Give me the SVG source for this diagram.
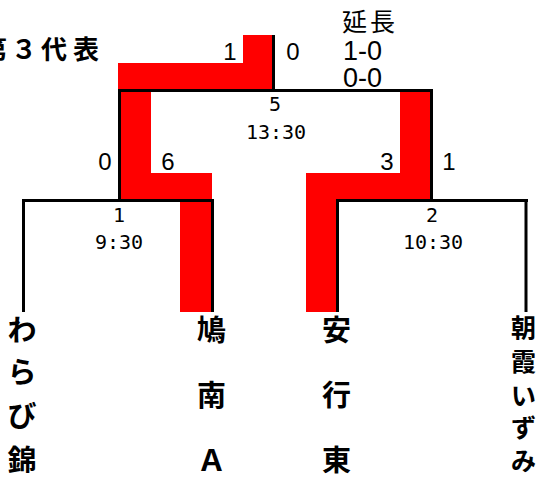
<svg xmlns="http://www.w3.org/2000/svg" width="542" height="477" viewBox="0 0 542 477">
<style>
.red{fill:#ff0000;stroke:none}
.ln{fill:none;stroke:#000;stroke-width:3;stroke-linecap:butt}
.sc{font-family:"Liberation Sans",Arial,sans-serif;font-size:24px;fill:#000;text-anchor:middle}
.ext{font-family:"Liberation Sans",Arial,sans-serif;font-size:27px;fill:#000}
.tm{font-family:"DejaVu Sans Mono",monospace;font-size:20px;fill:#000;text-anchor:middle}
.jp{font-family:"Noto Sans CJK JP",sans-serif;fill:#000}
.nm{font-family:"Noto Sans CJK JP",sans-serif;font-weight:bold;font-size:29px;fill:#000;text-anchor:middle}
.nm2{font-family:"Noto Sans CJK JP",sans-serif;font-weight:bold;font-size:25px;fill:#000;text-anchor:middle}
</style>
<rect width="542" height="477" fill="#fff"/>
<g id="title">
<text class="jp" font-weight="bold" font-size="26" text-anchor="middle" x="-6 24 54 86" y="59">第３代表</text>
</g>
<g id="win-path">
<polygon class="red" points="118,63 243,63 243,35 272,35 272,89 118,89"/>
<polygon class="red" points="120,92 151,92 151,173 212,173 212,312 180,312 180,199 120,199"/>
<polygon class="red" points="400,92 430,92 430,199 336,199 336,312 306,312 306,173 400,173"/>
</g>
<g id="connectors">
<path class="ln" d="M273.5,35 V90.5"/>
<path class="ln" d="M118,90.5 H433 M119.5,89 V202 M431.5,89 V202"/>
<path class="ln" d="M22,200.5 H214 M23.5,199 V312 M212.5,199 V312"/>
<path class="ln" d="M336,200.5 H528 M337.5,199 V312 M526,199 V312"/>
</g>
<g id="match5">
<text class="sc" x="230" y="60">1</text>
<text class="sc" x="293" y="60">0</text>
<text class="tm" x="275" y="111">5</text>
<text class="tm" x="276" y="139">13:30</text>
<text class="jp" font-size="25" letter-spacing="3" x="342" y="31">延長</text>
<text class="ext" x="343" y="60">1-0</text>
<text class="ext" x="343" y="87">0-0</text>
</g>
<g id="match1">
<text class="sc" x="105" y="170">0</text>
<text class="sc" x="168" y="170">6</text>
<text class="tm" x="119" y="222">1</text>
<text class="tm" x="119" y="249">9:30</text>
</g>
<g id="match2">
<text class="sc" x="387" y="170">3</text>
<text class="sc" x="449" y="170">1</text>
<text class="tm" x="432" y="222">2</text>
<text class="tm" x="433" y="249">10:30</text>
</g>
<g id="team-warabi">
<text class="nm" x="22 22 22 22" y="341 383 427 471">わらび錦</text>
</g>
<g id="team-hatonan">
<text class="nm" x="211.5 211.5 211.5" y="341 406 471">鳩南Ａ</text>
</g>
<g id="team-angyo">
<text class="nm" x="336.5 336.5 336.5" y="341 406 471">安行東</text>
</g>
<g id="team-asaka">
<text class="nm2" x="523.5 523.5 523.5 523.5 523.5" y="337 371 405 437 470">朝霞いずみ</text>
</g>
</svg>
